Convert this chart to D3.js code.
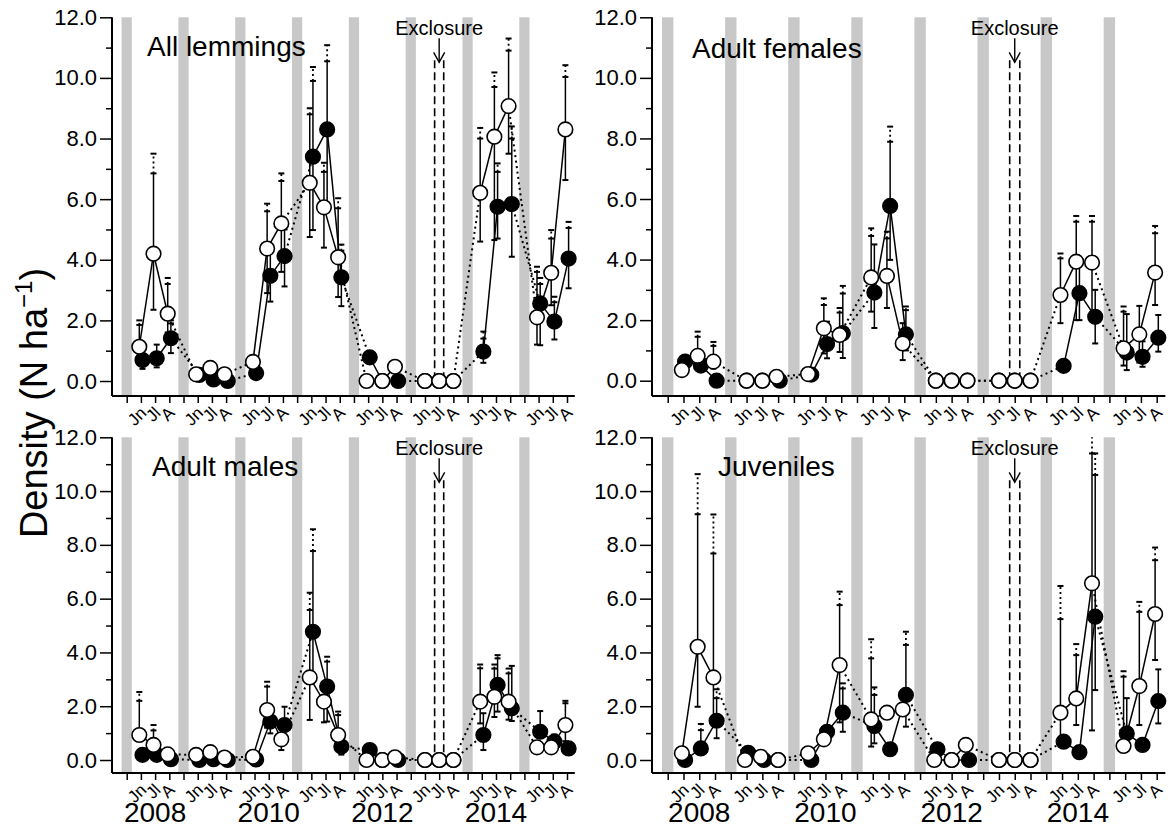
<!DOCTYPE html>
<html><head><meta charset="utf-8">
<script src="https://cdn.jsdelivr.net/npm/d3@7"></script>
<style>
body{margin:0;background:#fff}
svg{display:block}
text{font-family:"Liberation Sans",Arial,Helvetica,sans-serif;fill:#000}
</style>
</head><body>
<svg id="c" width="1172" height="829"></svg>
<script>
// ---------------- DATA ----------------
const years = [2008,2009,2010,2011,2012,2013,2014,2015];
const monthLabels = ["Jn","Jl","A"];
const yTicks = [0,2,4,6,8,10,12];
const yMinorTicks = [1,3,5,7,9,11];
const yearLabels = ["2008","2010","2012","2014"];
const panelTitles = ["All lemmings","Adult females","Adult males","Juveniles"];
const exclosureLabel = "Exclosure";
const exclosureYearIndex = 5; // 2013

// All lemmings
const allOpen    = [1.13,4.20,2.22, 0.22,0.43,0.22, 0.63,4.37,5.20, 6.54,5.73,4.08, 0,0,0.47, 0,0,0, 6.21,8.06,9.07, 2.10,3.57,8.30];
const allOpenLo  = [0.75,2.35,1.60, null,null,null, null,2.90,3.60, 4.75,4.40,2.77, null,null,null, null,null,null, 4.60,4.65,7.50, 1.20,2.50,6.63];
const allOpenHi  = [1.85,6.85,3.20, null,null,null, null,5.60,6.60, 8.80,6.90,5.70, null,null,null, null,null,null, 8.00,9.70,10.90, 3.60,4.70,10.03];
const allOpenHi2 = [2.00,7.50,3.40, null,null,null, null,5.85,6.85, 9.00,7.20,6.03, null,null,null, null,null,null, 8.35,10.18,11.30, 3.77,4.98,10.42];
const allBlack   = [0.69,0.75,1.41, 0.20,0.05,0, 0.26,3.47,4.12, 7.40,8.30,3.42, 0.78,0,0, 0,0,0, 0.97,5.75,5.84, 2.56,1.96,4.04];
const allBlackLo = [0.40,0.45,0.92, null,null,null, null,2.62,3.12, 4.98,5.60,2.47, null,null,null, null,null,null, 0.60,4.70,4.10, 1.18,1.37,3.06];
const allBlackHi = [0.90,1.20,1.90, null,null,null, null,4.30,5.00, 9.90,10.55,4.30, null,null,null, null,null,null, 1.40,6.90,8.00, 3.20,2.60,5.05];
const allBlackHi2= [null,null,2.00, null,null,null, null,null,null, 10.36,11.08,4.50, null,null,null, null,null,null, 1.63,7.18,8.40, 3.40,2.78,5.25];

// Adult females
const femOpen    = [0.35,0.82,0.63, 0,0,0.13, 0.22,1.73,1.51, 3.41,3.46,1.23, 0,0,0, 0,0,0, 2.83,3.93,3.90, 1.07,1.53,3.57];
const femOpenLo  = [null,0.50,0.40, null,null,null, null,0.90,0.95, 2.28,2.40,0.68, null,null,null, null,null,null, 1.90,2.00,2.20, 0.50,0.60,2.50];
const femOpenHi  = [null,1.45,1.15, null,null,null, null,2.50,2.25, 4.78,4.70,1.90, null,null,null, null,null,null, 4.04,5.25,5.25, 2.28,2.47,4.87];
const femOpenHi2 = [null,1.62,1.28, null,null,null, null,2.72,2.40, 5.03,4.92,null, null,null,null, null,null,null, 4.20,5.44,5.44, 2.45,null,5.11];
const femBlack   = [0.63,0.50,0, 0,0,0, 0.20,1.21,1.57, 2.91,5.77,1.53, 0,0,0, 0,0,0, 0.49,2.89,2.11, 0.93,0.79,1.42];
const femBlackLo = [0.50,null,null, null,null,null, null,0.74,0.75, 1.74,3.99,1.00, null,null,null, null,null,null, null,2.00,1.23, 0.35,0.46,0.96];
const femBlackHi = [0.85,null,null, null,null,null, null,1.95,2.88, 4.50,7.89,2.33, null,null,null, null,null,null, null,4.00,3.00, 2.20,1.30,2.17];
const femBlackHi2= [null,null,null, null,null,null, null,null,3.13, null,8.39,2.45, null,null,null, null,null,null, null,null,null, null,null,null];

// Adult males
const malOpen    = [0.93,0.56,0.21, 0.19,0.29,0.09, 0.12,1.86,0.77, 3.07,2.17,0.93, 0,0,0.10, 0,0,0, 2.17,2.35,2.17, 0.47,0.47,1.30];
const malOpenLo  = [null,null,null, null,null,null, null,1.20,0.37, 1.49,1.40,null, null,null,null, null,null,null, 1.36,1.60,1.50, null,null,0.70];
const malOpenHi  = [2.20,1.10,null, null,null,null, null,2.73,null, 5.58,null,1.67, null,null,null, null,null,null, 3.41,3.40,3.22, null,null,2.11];
const malOpenHi2 = [2.53,1.30,null, null,null,null, null,2.91,null, 6.22,null,1.80, null,null,null, null,null,null, 3.55,3.55,3.40, null,null,2.20];
const malBlack   = [0.19,0.19,0.03, 0,0.03,0, 0.02,1.43,1.30, 4.77,2.73,0.50, 0.37,0,0, 0,0,0, 0.93,2.79,1.92, 1.05,0.68,0.43];
const malBlackLo = [null,null,null, null,null,null, null,0.99,null, 3.00,1.43,0.20, null,null,null, null,null,null, 0.37,1.80,1.45, null,null,null];
const malBlackHi = [null,null,null, null,null,null, null,null,1.98, 7.77,3.66,null, null,null,null, null,null,null, 1.74,3.78,3.50, 1.82,0.95,null];
const malBlackHi2= [null,null,null, null,null,null, null,null,null, 8.58,3.84,null, null,null,null, null,null,null, null,3.90,null, null,null,null];

// Juveniles
const juvOpen    = [0.25,4.21,3.07, 0,0.12,0, 0.25,0.77,3.53, 1.51,1.76,1.88, 0,0,0.56, 0,0,0, 1.76,2.29,6.57, 0.52,2.75,5.43];
const juvOpenLo  = [null,1.98,1.40, null,null,null, null,null,1.40, 0.50,null,null, null,null,null, null,null,null, 0.60,1.30,1.10, null,1.30,3.72];
const juvOpenHi  = [null,9.14,7.68, null,null,null, null,null,5.76, 3.78,null,null, null,null,null, null,null,null, 5.24,3.90,11.40, 3.10,5.51,7.43];
const juvOpenHi2 = [null,10.63,9.13, null,null,null, null,null,6.26, 4.49,null,null, null,null,null, null,null,null, 6.47,4.31,12.00, 3.30,5.88,7.90];
const juvBlack   = [0,0.43,1.46, 0.27,0,0, 0,1.05,1.76, 1.26,0.40,2.42, 0.40,0,0, 0,0,0, 0.68,0.29,5.33, 0.99,0.56,2.19];
const juvBlackLo = [null,0.20,0.81, null,null,null, null,null,1.05, 0.62,null,1.24, null,null,null, null,null,null, null,null,2.60, null,null,1.36];
const juvBlackHi = [null,1.11,2.30, null,null,null, null,null,2.66, 2.42,null,4.28, null,null,null, null,null,null, null,null,10.60, 2.30,null,3.37];
const juvBlackHi2= [null,1.34,2.63, null,null,null, null,null,2.85, 2.70,null,4.77, null,null,null, null,null,null, null,null,11.40, null,null,null];

// ---------------- LAYOUT ----------------
const layouts = [
  {xr:[126.7,567], left:112, top:17.3, y0:381, axisY:396, titleX:147, titleY:56, showYears:false},
  {xr:[667.7,1156.7], left:652, top:17.3, y0:380.7, axisY:396, titleX:692, titleY:58, showYears:false},
  {xr:[126.7,567], left:112, top:437.3, y0:760, axisY:773, titleX:152, titleY:476, showYears:true},
  {xr:[667.7,1156.7], left:652, top:437.3, y0:760, axisY:773, titleX:718, titleY:476, showYears:true}
];
const panelData = [
  {open:[allOpen,allOpenLo,allOpenHi,allOpenHi2], black:[allBlack,allBlackLo,allBlackHi,allBlackHi2]},
  {open:[femOpen,femOpenLo,femOpenHi,femOpenHi2], black:[femBlack,femBlackLo,femBlackHi,femBlackHi2]},
  {open:[malOpen,malOpenLo,malOpenHi,malOpenHi2], black:[malBlack,malBlackLo,malBlackHi,malBlackHi2]},
  {open:[juvOpen,juvOpenLo,juvOpenHi,juvOpenHi2], black:[juvBlack,juvBlackLo,juvBlackHi,juvBlackHi2]}
];

const svg = d3.select("#c");
const posIndex = i => Math.floor(i/3)*4 + (i%3) + 1;

function drawPanel(L, D, title) {
  const g = svg.append("g");
  const x = d3.scaleLinear().domain([0, years.length*4 - 1]).range(L.xr);
  const y = d3.scaleLinear().domain([0, 12]).range([L.y0, L.top]).clamp(true);
  const step = x(1) - x(0);

  // winter bars
  g.selectAll("rect.w").data(years).join("rect")
    .attr("x", (d,i) => x(i*4) - step*0.36)
    .attr("width", step*0.72)
    .attr("y", L.top).attr("height", L.axisY - L.top)
    .attr("fill", "#c8c8c8");

  // exclosure marker
  const xe = x(exclosureYearIndex*4 + 2);
  [-0.32, 0.32].forEach(f => {
    g.append("line").attr("x1", xe + f*step).attr("x2", xe + f*step)
      .attr("y1", L.top + 43).attr("y2", y(0))
      .attr("stroke", "#000").attr("stroke-width", 1.6).attr("stroke-dasharray", "8,4");
  });
  g.append("line").attr("x1", xe).attr("x2", xe).attr("y1", L.top + 21).attr("y2", L.top + 45)
    .attr("stroke", "#000").attr("stroke-width", 1.4);
  g.append("path").attr("d", `M${xe-5.5},${L.top+35} L${xe},${L.top+45} L${xe+5.5},${L.top+35}`)
    .attr("fill", "none").attr("stroke", "#000").attr("stroke-width", 1.4);
  g.append("text").attr("x", xe).attr("y", L.top + 18).attr("text-anchor", "middle")
    .attr("font-size", 20).text(exclosureLabel);

  // title
  g.append("text").attr("x", L.titleX).attr("y", L.titleY).attr("font-size", 28).text(title);

  // axes
  const yMaj = d3.axisLeft(y).tickValues(yTicks).tickSize(12).tickPadding(3).tickFormat(d3.format(".1f"));
  const yMin = d3.axisLeft(y).tickValues(yMinorTicks).tickSize(6).tickFormat("");
  const ga = g.append("g").attr("transform", `translate(${L.left},0)`).call(yMaj);
  ga.select(".domain").remove();
  ga.selectAll("line").attr("stroke-width", 1.5);
  ga.selectAll("text").attr("font-size", 22).style("font-family", '"Liberation Sans",Arial,sans-serif');
  const gm = g.append("g").attr("transform", `translate(${L.left},0)`).call(yMin);
  gm.select(".domain").remove();
  gm.selectAll("line").attr("stroke-width", 1.5);

  const xAx = d3.axisBottom(x).tickValues(d3.range(years.length*4)).tickSize(7)
    .tickFormat(i => i % 4 === 0 ? "" : monthLabels[i % 4 - 1]);
  const gx = g.append("g").attr("transform", `translate(0,${L.axisY})`).call(xAx);
  gx.select(".domain").remove();
  gx.selectAll("line").attr("stroke-width", 1.5);
  gx.selectAll("text").attr("font-size", 17).attr("text-anchor", "end")
    .attr("x", 0).attr("y", 0).attr("dy", 0)
    .attr("transform", "translate(6,18) rotate(-45)")
    .style("font-family", '"Liberation Sans",Arial,sans-serif');

  g.append("line").attr("x1", L.left).attr("x2", L.left).attr("y1", L.top).attr("y2", L.axisY)
    .attr("stroke", "#000").attr("stroke-width", 2);
  g.append("line").attr("x1", L.left).attr("x2", x(31.55)).attr("y1", L.axisY).attr("y2", L.axisY)
    .attr("stroke", "#000").attr("stroke-width", 2);

  if (L.showYears) {
    g.selectAll("text.yr").data(yearLabels).join("text")
      .attr("x", (d,i) => x(i*8 + 2)).attr("y", 822).attr("text-anchor", "middle")
      .attr("font-size", 28).text(d => d);
  }

  // series
  const [ov, olo, ohi, ohi2] = D.open;
  const [bv, blo, bhi, bhi2] = D.black;
  const series = [
    {v: bv, lo: blo, hi: bhi, hi2: bhi2, sign: 1, fill: "#000"},
    {v: ov, lo: olo, hi: ohi, hi2: ohi2, sign: -1, fill: "#fff"}
  ];
  const px = (s, i) => x(posIndex(i)) + ((ov[i] === bv[i]) ? 0 : s.sign*1.6);

  // connecting lines
  series.forEach(s => {
    for (let i = 0; i < s.v.length - 1; i++) {
      if (s.v[i] == null || s.v[i+1] == null) continue;
      const cross = (i % 3 === 2);
      g.append("line").attr("x1", px(s,i)).attr("y1", y(s.v[i]))
        .attr("x2", px(s,i+1)).attr("y2", y(s.v[i+1]))
        .attr("stroke", "#000")
        .attr("stroke-width", cross ? 2 : 1.5)
        .attr("stroke-dasharray", cross ? "2,3.5" : null);
    }
  });

  // error bars
  series.forEach(s => {
    s.v.forEach((v, i) => {
      if (v == null) return;
      const cx = px(s, i);
      const cap = val => g.append("line").attr("x1", cx-3).attr("x2", cx+3)
        .attr("y1", y(val)).attr("y2", y(val)).attr("stroke", "#000").attr("stroke-width", 2);
      if (s.lo[i] != null) {
        g.append("line").attr("x1", cx).attr("x2", cx).attr("y1", y(v)).attr("y2", y(s.lo[i]))
          .attr("stroke", "#000").attr("stroke-width", 1.5);
        cap(s.lo[i]);
      }
      let top = v;
      if (s.hi[i] != null) {
        g.append("line").attr("x1", cx).attr("x2", cx).attr("y1", y(v)).attr("y2", y(s.hi[i]))
          .attr("stroke", "#000").attr("stroke-width", 1.5);
        if (s.hi[i] < 12) cap(s.hi[i]);
        top = s.hi[i];
      }
      if (s.hi2[i] != null) {
        g.append("line").attr("x1", cx).attr("x2", cx).attr("y1", y(top)).attr("y2", y(s.hi2[i]))
          .attr("stroke", "#000").attr("stroke-width", 1.8).attr("stroke-dasharray", "2,3");
        if (s.hi2[i] < 12) cap(s.hi2[i]);
      }
    });
  });

  // points
  series.forEach(s => {
    g.selectAll(null).data(s.v.map((v,i) => ({v, i})).filter(d => d.v != null)).join("circle")
      .attr("cx", d => px(s, d.i)).attr("cy", d => y(d.v)).attr("r", 7.3)
      .attr("fill", s.fill).attr("stroke", "#000").attr("stroke-width", 1.6);
  });
}

layouts.forEach((L, k) => drawPanel(L, panelData[k], panelTitles[k]));

// y-axis title
const yt = svg.append("text").attr("transform", "translate(47,403) rotate(-90)")
  .attr("text-anchor", "middle").attr("font-size", 38);
yt.append("tspan").text("Density (N ha");
yt.append("tspan").attr("font-size", 24).attr("dy", -15).text("\u22121");
yt.append("tspan").attr("dy", 15).text(")");
</script>
</body></html>
